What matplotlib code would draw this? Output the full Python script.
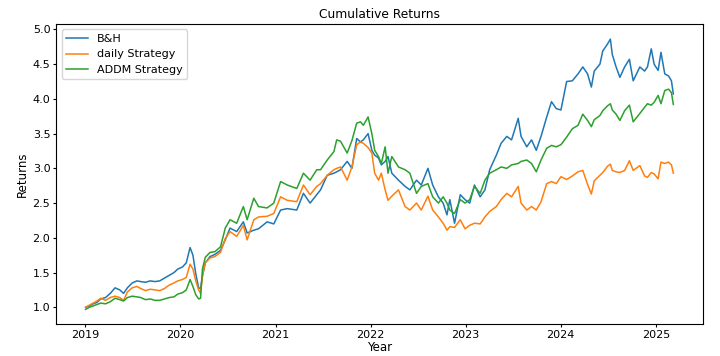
import numpy as np
import pandas as pd
import matplotlib
matplotlib.use("Agg")
import matplotlib.pyplot as plt
import matplotlib.dates as mdates

# dates as decimal years
years = [2019.00, 2019.04, 2019.08, 2019.12, 2019.16, 2019.21, 2019.26, 2019.31, 2019.36, 2019.40,
         2019.44, 2019.49, 2019.54, 2019.58, 2019.63, 2019.68, 2019.73, 2019.78, 2019.83, 2019.88,
         2019.93, 2019.97, 2020.02, 2020.06, 2020.10, 2020.13, 2020.16, 2020.19, 2020.21, 2020.23,
         2020.26, 2020.31, 2020.36, 2020.42, 2020.47, 2020.52, 2020.59, 2020.66, 2020.70, 2020.77,
         2020.82, 2020.91, 2020.98, 2021.05, 2021.12, 2021.22, 2021.29, 2021.36, 2021.43, 2021.47,
         2021.54, 2021.61, 2021.64, 2021.68, 2021.75, 2021.80, 2021.85, 2021.89, 2021.92, 2021.97,
         2022.01, 2022.04, 2022.08, 2022.11, 2022.15, 2022.18, 2022.22, 2022.29, 2022.36, 2022.41,
         2022.48, 2022.53, 2022.60, 2022.65, 2022.71, 2022.76, 2022.80, 2022.83, 2022.88, 2022.94,
         2022.99, 2023.04, 2023.09, 2023.15, 2023.20, 2023.25, 2023.32, 2023.37, 2023.43, 2023.48,
         2023.55, 2023.58, 2023.64, 2023.69, 2023.74, 2023.79, 2023.85, 2023.90, 2023.95, 2024.00,
         2024.06, 2024.12, 2024.18, 2024.23, 2024.28, 2024.32, 2024.35, 2024.41, 2024.44, 2024.49,
         2024.52, 2024.54, 2024.58, 2024.62, 2024.67, 2024.72, 2024.76, 2024.83, 2024.88, 2024.91,
         2024.95, 2024.98, 2025.02, 2025.05, 2025.09, 2025.13, 2025.16, 2025.18]

bh = [1.00, 1.02, 1.05, 1.07, 1.12, 1.14, 1.20, 1.28, 1.25, 1.20,
      1.28, 1.35, 1.38, 1.37, 1.36, 1.38, 1.37, 1.38, 1.42, 1.46,
      1.50, 1.55, 1.58, 1.64, 1.86, 1.75, 1.48, 1.28, 1.27, 1.45,
      1.64, 1.73, 1.76, 1.82, 1.97, 2.14, 2.09, 2.23, 2.07, 2.11,
      2.13, 2.23, 2.20, 2.40, 2.42, 2.40, 2.64, 2.50, 2.62, 2.69,
      2.90, 2.93, 2.95, 2.98, 3.10, 3.00, 3.43, 3.38, 3.41, 3.50,
      3.26, 3.19, 3.15, 3.05, 3.10, 3.17, 2.93, 2.83, 2.74, 2.69,
      2.83, 2.76, 3.00, 2.76, 2.59, 2.50, 2.33, 2.55, 2.21, 2.62,
      2.55, 2.50, 2.76, 2.59, 2.69, 2.98, 3.19, 3.36, 3.46, 3.41,
      3.72, 3.46, 3.31, 3.41, 3.26, 3.46, 3.74, 3.96, 3.86, 3.84,
      4.25, 4.26, 4.36, 4.46, 4.36, 4.17, 4.40, 4.50, 4.69, 4.79,
      4.86, 4.64, 4.46, 4.31, 4.46, 4.57, 4.26, 4.46, 4.40, 4.46,
      4.72, 4.50, 4.41, 4.67, 4.36, 4.33, 4.26, 4.07]

daily = [1.00, 1.03, 1.06, 1.09, 1.13, 1.10, 1.14, 1.16, 1.14, 1.10,
         1.22, 1.28, 1.30, 1.27, 1.24, 1.26, 1.25, 1.24, 1.27, 1.32,
         1.35, 1.38, 1.40, 1.43, 1.62, 1.55, 1.38, 1.25, 1.20, 1.45,
         1.64, 1.71, 1.73, 1.79, 1.99, 2.09, 2.02, 2.18, 1.97, 2.26,
         2.30, 2.31, 2.35, 2.59, 2.54, 2.52, 2.76, 2.62, 2.74, 2.78,
         2.90, 2.98, 3.00, 3.02, 2.83, 3.02, 3.34, 3.38, 3.36, 3.30,
         3.22, 2.93, 2.83, 2.93, 2.69, 2.54, 2.60, 2.69, 2.45, 2.40,
         2.50, 2.40, 2.60, 2.40, 2.30, 2.21, 2.11, 2.16, 2.15, 2.26,
         2.13, 2.18, 2.21, 2.20, 2.30, 2.38, 2.45, 2.55, 2.64, 2.59,
         2.74, 2.50, 2.40, 2.45, 2.40, 2.52, 2.78, 2.81, 2.78, 2.88,
         2.84, 2.89, 2.95, 2.97, 2.77, 2.63, 2.82, 2.90, 2.94, 3.03,
         3.06, 2.97, 2.95, 2.94, 2.97, 3.11, 2.97, 3.04, 2.89, 2.87,
         2.94, 2.92, 2.85, 3.09, 3.07, 3.09, 3.05, 2.93]

addm = [0.97, 1.00, 1.02, 1.04, 1.06, 1.05, 1.08, 1.13, 1.11, 1.09,
        1.14, 1.16, 1.15, 1.14, 1.11, 1.12, 1.10, 1.10, 1.12, 1.14,
        1.15, 1.19, 1.21, 1.25, 1.40, 1.30, 1.18, 1.12, 1.13, 1.55,
        1.72, 1.79, 1.80, 1.87, 2.14, 2.26, 2.21, 2.45, 2.26, 2.57,
        2.45, 2.43, 2.50, 2.81, 2.76, 2.71, 2.93, 2.83, 2.98, 2.98,
        3.12, 3.24, 3.41, 3.39, 3.22, 3.40, 3.65, 3.67, 3.62, 3.74,
        3.50, 3.26, 3.17, 3.07, 3.31, 2.93, 3.17, 3.02, 2.98, 2.93,
        2.64, 2.74, 2.78, 2.59, 2.50, 2.59, 2.50, 2.40, 2.35, 2.55,
        2.50, 2.55, 2.74, 2.64, 2.83, 2.93, 2.98, 3.02, 3.00, 3.05,
        3.07, 3.10, 3.12, 3.07, 2.95, 3.12, 3.29, 3.33, 3.31, 3.34,
        3.45, 3.57, 3.62, 3.78, 3.69, 3.60, 3.70, 3.76, 3.83, 3.90,
        3.93, 3.84, 3.78, 3.69, 3.83, 3.91, 3.67, 3.79, 3.88, 3.93,
        3.91, 3.95, 4.05, 3.93, 4.12, 4.14, 4.09, 3.92]

labels = ["B&H", "daily Strategy", "ADDM Strategy"]


def to_date(y):
    yr = int(y)
    start = pd.Timestamp(year=yr, month=1, day=2)
    return start + pd.Timedelta(days=(y - yr) * 365.25)


dates = [to_date(y) for y in years]

fig = plt.figure(figsize=(7.2, 3.56), dpi=100)
ax = fig.add_axes([0.078, 0.09, 0.898, 0.843])

for vals, lab in zip([bh, daily, addm], labels):
    ax.plot(dates, vals, label=lab, lw=1.1)

ax.set_ylim(0.76, 5.08)
ax.xaxis.set_major_locator(mdates.YearLocator())
ax.xaxis.set_major_formatter(mdates.DateFormatter("%Y"))
ax.tick_params(labelsize=8, length=2.2, pad=2)
ax.set_title("Cumulative Returns", fontsize=8.8, pad=4)
ax.set_xlabel("Year", fontsize=8.5, labelpad=1)
ax.set_ylabel("Returns", fontsize=8.5, labelpad=3)
ax.legend(loc="upper left", fontsize=8)

fig.savefig("out.png", dpi=100)
